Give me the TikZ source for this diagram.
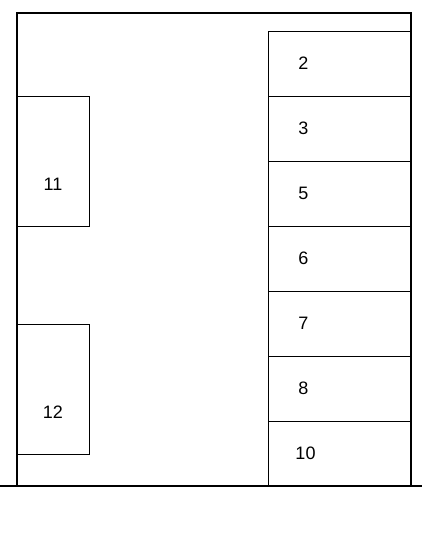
\documentclass[tikz,border=0pt]{standalone}
\usepackage{fontspec}
\setmainfont{Liberation Sans}
\usetikzlibrary{positioning}

\begin{document}
\begin{tikzpicture}[x=1pt,y=-1pt,line width=1pt,
  slot/.style={draw,minimum width=143pt,minimum height=65pt,inner sep=0pt,outer sep=0pt},
  bay/.style={draw,minimum width=72pt,minimum height=130pt,inner sep=0pt,outer sep=0pt},
  every label/.style={font=\fontsize{18}{18}\selectfont}]
\useasboundingbox (0,0) rectangle (422,549);
\draw[line width=1.3pt] (17,486) -- (17,13) -- (411,13) -- (411,487);
\draw[line width=1.3pt] (0,486) -- (422,486);
\node[slot,label={[xshift=-36pt]center:2}] (s2) at (339.5,63.5) {};
\node[slot,below=0pt of s2,label={[xshift=-36pt]center:3}] (s3) {};
\node[slot,below=0pt of s3,label={[xshift=-36pt]center:5}] (s5) {};
\node[slot,below=0pt of s5,label={[xshift=-36pt]center:6}] (s6) {};
\node[slot,below=0pt of s6,label={[xshift=-36pt]center:7}] (s7) {};
\node[slot,below=0pt of s7,label={[xshift=-36pt]center:8}] (s8) {};
\node[slot,below=0pt of s8,label={[xshift=-34pt]center:10}] (s10) {};
\node[bay,label={[yshift=-23pt]center:11}] (b11) at (53,161) {};
\node[bay,label={[yshift=-23pt]center:12}] (b12) at (53,389) {};
\end{tikzpicture}
\end{document}
